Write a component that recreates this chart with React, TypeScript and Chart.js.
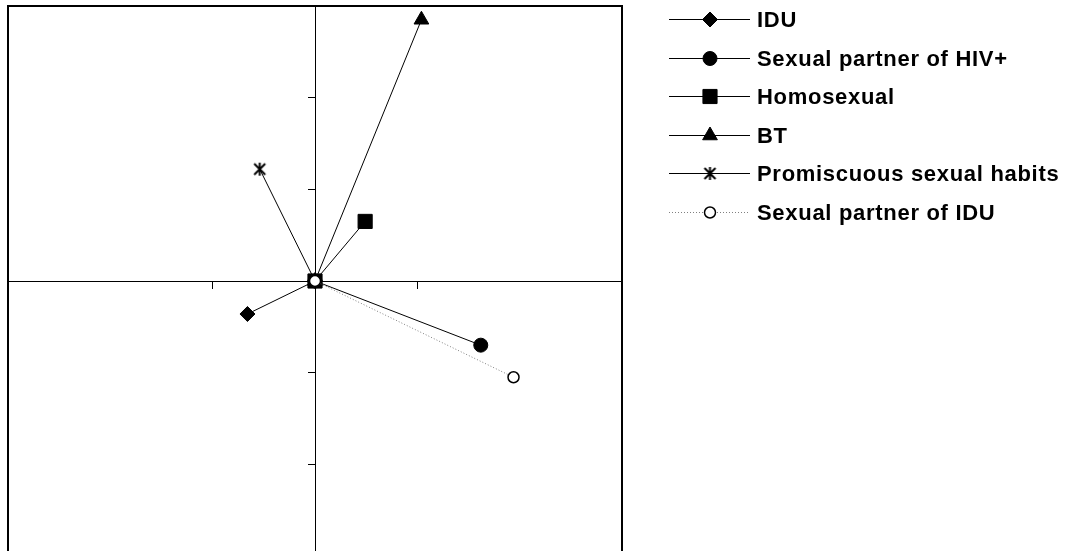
import React, { useEffect, useRef } from 'react';
import { Chart, registerables } from 'chart.js';
import { drawPoint } from 'chart.js/helpers';

Chart.register(...registerables);

// ---- data ----
const seriesNames = [
  'IDU',
  'Sexual partner of HIV+',
  'Homosexual',
  'BT',
  'Promiscuous sexual habits',
  'Sexual partner of IDU',
];
const originX = 0;
const originY = 0;
const endX = [-0.66, 1.62, 0.49, 1.04, -0.54, 1.94];
const endY = [-0.36, -0.7, 0.65, 2.85, 1.22, -1.05];
const xTickValues = [-1, 1];
const yTickValues = [-2, -1, 1, 2];
const axisMin = -3;
const axisMax = 3;

// ---- styles ----
const markerStyles = ['rectRot', 'circle', 'rect', 'triangle', 'star6', 'circle'];
const markerRadii = [7.5, 7, 10, 8.5, 7, 5.5];
const markerFills = ['#000', '#000', '#000', '#000', '#000', '#fff'];
const markerBorderWidths = [1, 1, 1, 1, 0, 1.5];
const lineColors = ['#000', '#000', '#000', '#000', '#000', '#808080'];
const lineDashes = [[], [], [], [], [], [1, 2]];
const drawOrders = [5, 4, 1, 3, 2, 0];

const FONT = '"Liberation Sans", Arial, Helvetica, sans-serif';
const LEG_X1 = 669;
const LEG_X2 = 750;
const LEG_MX = 710;
const LEG_TX = 757;
const LEG_TOP = 19;
const LEG_PITCH = 38.6;

function makeStar(): HTMLCanvasElement {
  const c = document.createElement('canvas');
  c.width = 15;
  c.height = 15;
  const g = c.getContext('2d')!;
  g.strokeStyle = '#000';
  g.lineWidth = 2;
  g.beginPath();
  g.moveTo(2, 2);
  g.lineTo(13, 13);
  g.moveTo(13, 2);
  g.lineTo(2, 13);
  g.moveTo(7.5, 1);
  g.lineTo(7.5, 14);
  g.stroke();
  return c;
}

const frameAndLegend = {
  id: 'frameAndLegend',
  beforeDatasetsDraw(chart: any) {
    const { ctx, chartArea } = chart;
    ctx.save();
    ctx.strokeStyle = '#000';
    ctx.lineWidth = 2;
    ctx.strokeRect(chartArea.left, chartArea.top, chartArea.right - chartArea.left, chartArea.bottom - chartArea.top);
    ctx.restore();
  },
  afterDraw(chart: any) {
    const ctx = chart.ctx;
    chart.data.datasets.forEach((ds: any, i: number) => {
      const y = Math.round(LEG_TOP + i * LEG_PITCH) + 0.5;
      ctx.save();
      ctx.strokeStyle = ds.borderColor;
      ctx.lineWidth = 1;
      ctx.setLineDash(ds.borderDash || []);
      ctx.beginPath();
      ctx.moveTo(LEG_X1, y);
      ctx.lineTo(LEG_X2, y);
      ctx.stroke();
      ctx.setLineDash([]);
      ctx.fillStyle = ds.pointBackgroundColor;
      ctx.strokeStyle = ds.pointBorderColor;
      ctx.lineWidth = ds.pointBorderWidth;
      drawPoint(
        ctx,
        { pointStyle: ds.pointStyle, radius: ds.pointRadius, rotation: 0, borderWidth: ds.pointBorderWidth },
        LEG_MX,
        y
      );
      ctx.fillStyle = '#000';
      ctx.font = 'bold 22px ' + FONT;
      (ctx as any).letterSpacing = '0.7px';
      ctx.textBaseline = 'middle';
      ctx.textAlign = 'left';
      ctx.fillText(ds.label, LEG_TX, y + 1);
      ctx.restore();
    });
  },
};

export default function App() {
  const ref = useRef<HTMLCanvasElement | null>(null);

  useEffect(() => {
    if (!ref.current) return;
    const star = makeStar();
    const datasets = seriesNames.map((name, i) => ({
      label: name,
      data: [
        { x: originX, y: originY },
        { x: endX[i], y: endY[i] },
      ],
      showLine: true,
      borderColor: lineColors[i],
      borderWidth: 1,
      borderDash: lineDashes[i],
      pointStyle: markerStyles[i] === 'star6' ? star : markerStyles[i],
      pointRadius: markerRadii[i],
      pointBackgroundColor: markerFills[i],
      pointBorderColor: '#000',
      pointBorderWidth: markerBorderWidths[i],
      order: drawOrders[i],
      clip: false as any,
    }));

    const chart = new Chart(ref.current, {
      type: 'scatter',
      data: { datasets },
      plugins: [frameAndLegend],
      options: {
        responsive: false,
        animation: false,
        events: [],
        layout: { autoPadding: false, padding: { left: 8, top: 6, right: 443, bottom: 9 } },
        plugins: { legend: { display: false }, tooltip: { enabled: false }, title: { display: false } },
        scales: {
          x: {
            type: 'linear',
            min: axisMin,
            max: axisMax,
            position: { y: 0 } as any,
            afterBuildTicks: (s: any) => {
              s.ticks = xTickValues.map((v) => ({ value: v }));
            },
            afterFit: (s: any) => {
              s.height = 0;
            },
            ticks: { display: false },
            grid: { drawOnChartArea: false, drawTicks: true, tickLength: 7, color: '#000', tickWidth: 1 },
            border: { display: true, color: '#000', width: 1 },
          },
          y: {
            type: 'linear',
            min: axisMin,
            max: axisMax,
            position: { x: 0 } as any,
            afterBuildTicks: (s: any) => {
              s.ticks = yTickValues.map((v) => ({ value: v }));
            },
            afterFit: (s: any) => {
              s.width = 0;
            },
            ticks: { display: false },
            grid: { drawOnChartArea: false, drawTicks: true, tickLength: 7, color: '#000', tickWidth: 1 },
            border: { display: true, color: '#000', width: 1 },
          },
        },
      },
    });
    return () => chart.destroy();
  }, []);

  return (
    <div
      style={{
        position: 'fixed',
        left: 0,
        top: 0,
        width: 1065,
        height: 551,
        overflow: 'hidden',
        background: '#fff',
      }}
    >
      <canvas ref={ref} width={1065} height={565} style={{ display: 'block' }} />
    </div>
  );
}
